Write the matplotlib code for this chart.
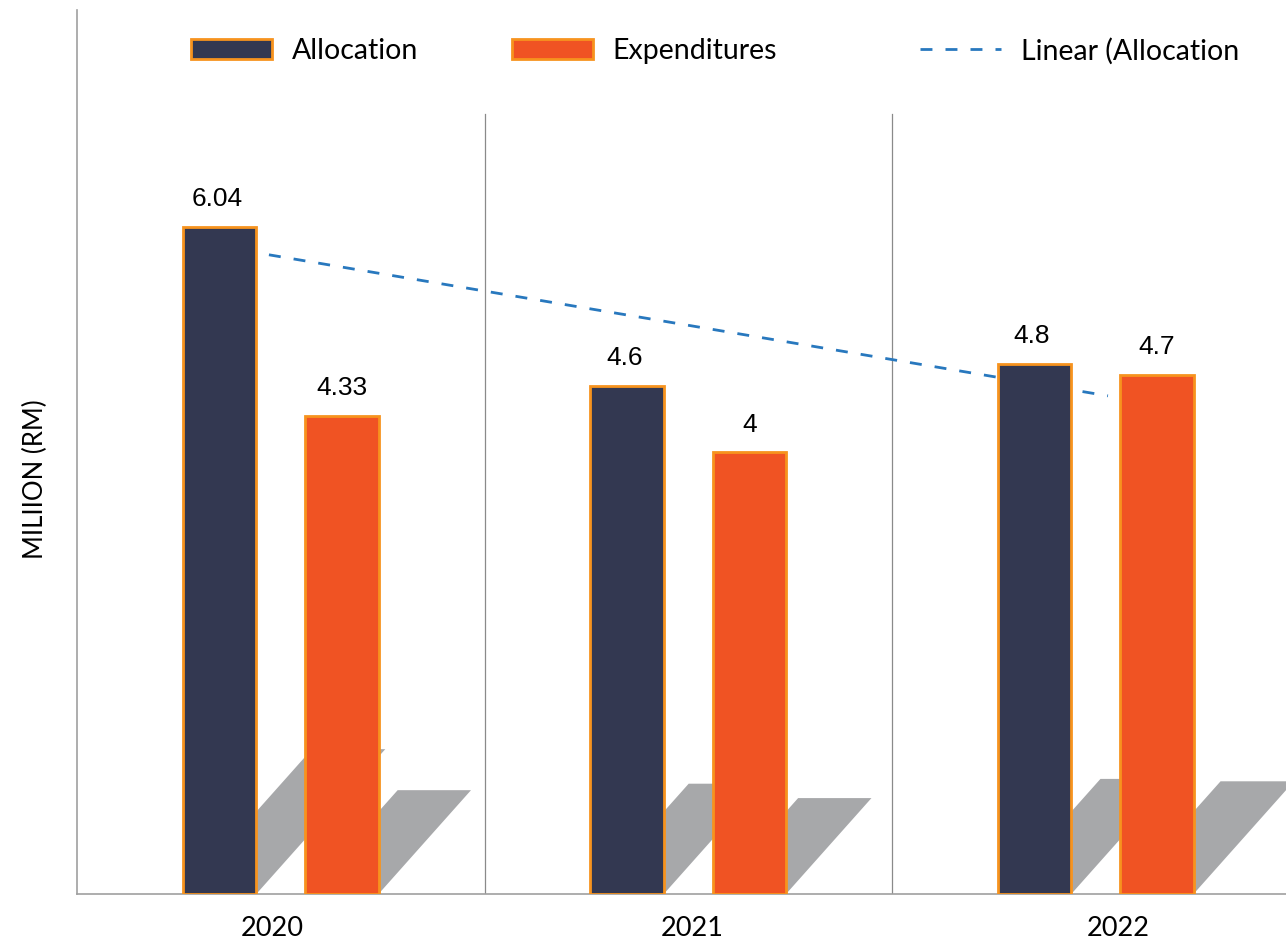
import numpy as np
import matplotlib.pyplot as plt
from matplotlib.patches import Polygon

# data
years = ['2020', '2021', '2022']
allocation = [6.04, 4.6, 4.8]
expenditures = [4.33, 4.0, 4.7]
alloc_text = ['6.04', '4.6', '4.8']
exp_text = ['4.33', '4', '4.7']

navy = '#333851'
orange = '#F05323'
edge = '#F7931E'
shadow_col = '#A7A8AA'
trend_col = '#2878BE'
geo_font = 'Lato'

W, H = 1286, 942
fig = plt.figure(figsize=(W / 100, H / 100), dpi=100)
ax = fig.add_axes([77 / W, 48 / H, 1222.5 / W, 884 / H])
ax.set_xlim(0.5, 3.5)
ax.set_ylim(0, 8)

x = np.arange(1, len(years) + 1)
width = 0.18
off = 0.15


def add_shadow(xc, v):
    # fake 3d shadow, sheared footprint of the bar
    h = 0.217 * v
    d = 0.0524 * v
    xl, xr = xc - width / 2, xc + width / 2
    poly = Polygon([(xl, 0), (xr, 0), (xr + d, h), (xl + d, h)],
                   closed=True, facecolor=shadow_col, edgecolor='none', zorder=1)
    ax.add_patch(poly)


for xc, v in zip(x - off, allocation):
    add_shadow(xc, v)
for xc, v in zip(x + off, expenditures):
    add_shadow(xc, v)

# separators between categories
for s in x[:-1] + 0.5:
    ax.plot([s, s], [0, 7.06], color='#8a8a8a', lw=0.9, zorder=1)

# linear trendline of allocation
coef = np.polyfit(x, allocation, 1)
tx = np.array([x[0] - off, x[-1] + 0.03])
trend, = ax.plot(tx, np.polyval(coef, tx), color=trend_col, lw=2,
                 linestyle=(0, (4.3, 4.7)), zorder=2)

b1 = ax.bar(x - off, allocation, width, color=navy, edgecolor=edge, linewidth=2, zorder=3)
b2 = ax.bar(x + off, expenditures, width, color=orange, edgecolor=edge, linewidth=2, zorder=3)

for xc, v, t in zip(x - off, allocation, alloc_text):
    ax.annotate(t, (xc, v), xytext=(-2, 11), textcoords='offset points',
                ha='center', va='bottom', fontsize=19, family='Liberation Sans')
for xc, v, t in zip(x + off, expenditures, exp_text):
    ax.annotate(t, (xc, v), xytext=(0, 11), textcoords='offset points',
                ha='center', va='bottom', fontsize=19, family='Liberation Sans')

for side in ['top', 'right']:
    ax.spines[side].set_visible(False)
for side in ['left', 'bottom']:
    ax.spines[side].set_color('#a0a0a0')
    ax.spines[side].set_linewidth(1.2)

ax.set_yticks([])
ax.set_xticks([0.978, 2.009, 3.055])
ax.set_xticklabels(years, fontsize=19.5, family=geo_font)
ax.tick_params(axis='x', length=0, pad=16)

fig.text(35 / W, 1 - 479 / H, 'MILIION (RM)', rotation=90, ha='center', va='center',
         fontsize=18.5, family=geo_font)

# legend entries placed like the original (uneven spacing)
entries = [(b1[0], 'Allocation', 191), (b2[0], 'Expenditures', 512),
           (trend, 'Linear (Allocation', 920)]
for handle, lab, x0 in entries:
    fig.legend([handle], [lab], loc='center left', bbox_to_anchor=(x0 / W, 1 - 51 / H),
               frameon=False, borderpad=0, borderaxespad=0, handlelength=2.85,
               handleheight=0.72, handletextpad=0.68,
               prop={'family': geo_font, 'size': 20.5})

fig.savefig('out.png', dpi=100)
